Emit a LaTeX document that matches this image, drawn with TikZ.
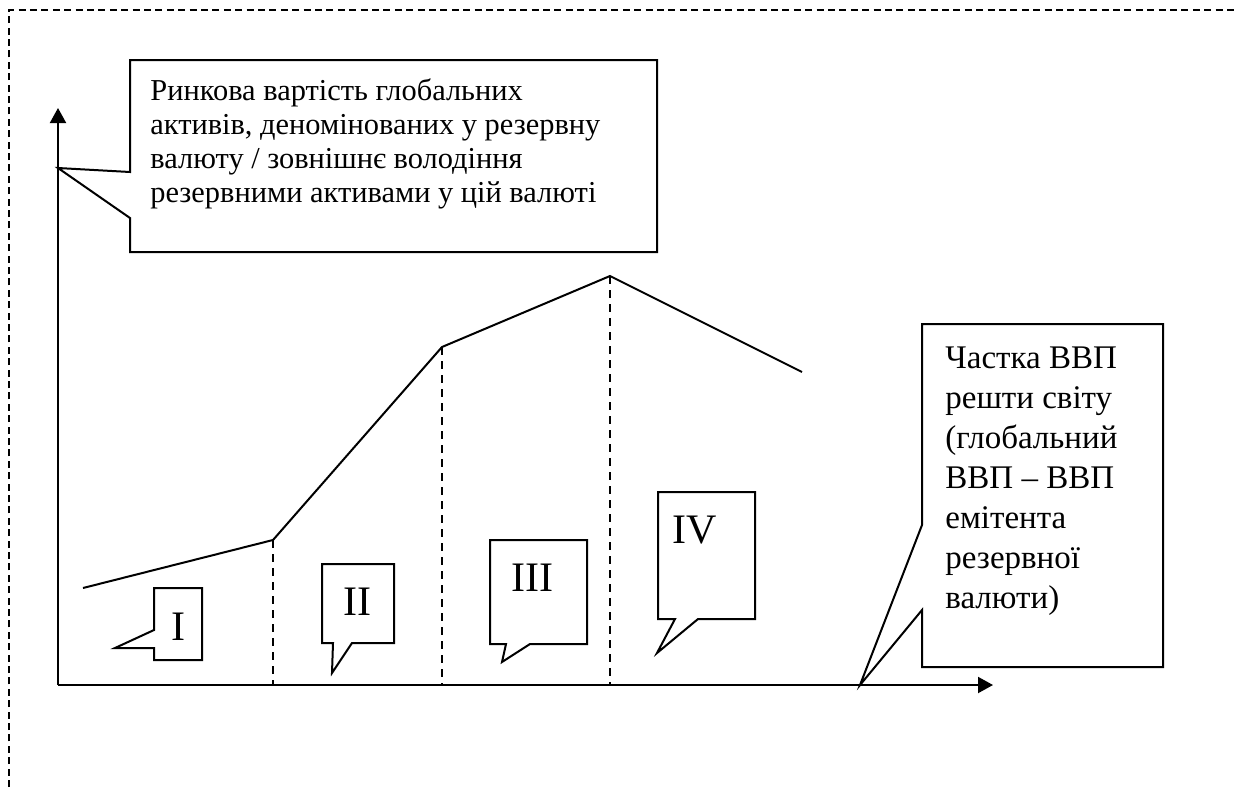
\documentclass[tikz,border=0pt]{standalone}
\usepackage{fontspec}
\setmainfont{Liberation Serif}
\usetikzlibrary{arrows.meta}
\begin{document}
\begin{tikzpicture}[x=0.5pt,y=-0.5pt,
  axis/.style={line width=1pt,-{Triangle[length=7.5pt,width=8pt]}},
  curve/.style={line width=1pt,line join=miter},
  guide/.style={line width=0.8pt,dash pattern=on 4pt off 3pt},
  callout/.style={line width=1pt,fill=white,line join=miter},
  frame/.style={line width=0.75pt,dash pattern=on 3.5pt off 2.2pt},
  toptext/.style={anchor=base west,align=left,inner sep=0pt,font=\fontsize{15.2}{17}\selectfont},
  sidetext/.style={anchor=base west,align=left,inner sep=0pt,font=\fontsize{16.5}{20}\selectfont},
  roman/.style={anchor=base,inner sep=0pt,font=\fontsize{21}{21}\selectfont}]
\useasboundingbox (0,0) rectangle (1234,787);
\fill[white] (0,0) rectangle (1234,787);

% dashed frame (open to the right and below)
\draw[frame] (9,787) -- (9,10) -- (1234,10);

% axes
\coordinate (O) at (58,685);
\coordinate (ytip) at (58,108);
\coordinate (xtip) at (993,685);
\draw[axis] (O) -- (ytip);
\draw[axis] (O) -- (xtip);

% curve
\coordinate (p0) at (83,588);
\coordinate (p1) at (273,540);
\coordinate (p2) at (442,347);
\coordinate (p3) at (610,276);
\coordinate (p4) at (802,372);
\draw[curve] (p0) -- (p1) -- (p2) -- (p3) -- (p4);

% stage boundaries
\draw[guide] (p1) -- (p1 |- O);
\draw[guide] (p2) -- (p2 |- O);
\draw[guide] (p3) -- (p3 |- O);

% y-axis callout (multi-line text is anchored at its last baseline)
\coordinate (ylab) at (58,168);
\draw[callout] (130,60) -- (657,60) -- (657,252) -- (130,252) -- (130,218) -- (ylab) -- (130,172) -- cycle;
\node[toptext] (ytext) at (150,202) {Ринкова вартість глобальних\\активів, деномінованих у резервну\\валюту / зовнішнє володіння\\резервними активами у цій валюті};

% x-axis callout
\coordinate (xlab) at (860,685);
\draw[callout] (922,324) -- (1163,324) -- (1163,667) -- (922,667) -- (922,610) -- (xlab) -- (922,525) -- cycle;
\node[sidetext] (xtext) at (945,608) {Частка ВВП\\решти світу\\(глобальний\\ВВП – ВВП\\емітента\\резервної\\валюти)};

% stage callouts
\draw[callout] (154,588) -- (202,588) -- (202,660) -- (154,660) -- (154,648) -- (115,648) -- (154,630) -- cycle;
\node[roman] (s1) at (178,640) {I};
\draw[callout] (322,564) -- (394,564) -- (394,643) -- (352,643) -- (332,673) -- (333,643) -- (322,643) -- cycle;
\node[roman] (s2) at (357,615) {II};
\draw[callout] (490,540) -- (587,540) -- (587,644) -- (530,644) -- (502,662) -- (506,644) -- (490,644) -- cycle;
\node[roman] (s3) at (532,591) {III};
\draw[callout] (658,492) -- (755,492) -- (755,619) -- (698,619) -- (657,653) -- (675,619) -- (658,619) -- cycle;
\node[roman] (s4) at (695,543) {IV};
\end{tikzpicture}
\end{document}
